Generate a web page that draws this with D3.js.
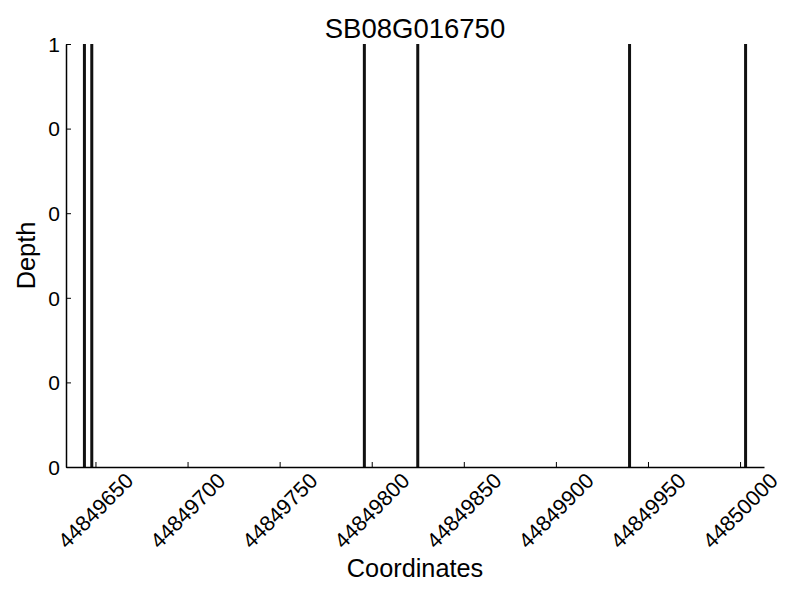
<!DOCTYPE html>
<html>
<head>
<meta charset="utf-8">
<script src="https://cdn.jsdelivr.net/npm/d3@7"></script>
<style>
  body { margin: 0; background: #fff; }
  text { font-family: "Liberation Sans", Arial, sans-serif; fill: #000; }
</style>
</head>
<body>
<svg id="chart" width="800" height="600"></svg>
<script>
const title = "SB08G016750";
const positions = [44849644, 44849648, 44849796, 44849825, 44849940, 44850003];
const depths = [1, 1, 1, 1, 1, 1];
const xTicks = [44849650, 44849700, 44849750, 44849800, 44849850, 44849900, 44849950, 44850000];
const yTicks = [0, 0.2, 0.4, 0.6, 0.8, 1];
const xDomain = [44849634, 44850013];

const svg = d3.select("#chart");
const mLeft = 66, mRight = 764, mTop = 44, mBottom = 467;

const x = d3.scaleLinear().domain(xDomain).range([mLeft, mRight]);
const y = d3.scaleLinear().domain([0, 1]).range([mBottom, mTop]);

// bars
svg.append("g").selectAll("rect").data(positions.map((p, i) => ({p, d: depths[i]})))
  .join("rect")
  .attr("x", d => x(d.p) - 1.5)
  .attr("width", 3)
  .attr("y", d => y(d.d))
  .attr("height", d => y(0) - y(d.d))
  .attr("fill", "#111");

// x axis
const xAxis = d3.axisBottom(x).tickValues(xTicks).tickSizeInner(-5).tickSizeOuter(0).tickFormat(d3.format("d"));
const gx = svg.append("g").attr("transform", `translate(0,${mBottom})`).call(xAxis);
gx.attr("font-family", null).attr("font-size", null);
gx.select(".domain").attr("stroke", "#000").attr("stroke-width", 1.5);
gx.selectAll(".tick line").attr("stroke", "#000").attr("stroke-width", 1);
gx.selectAll(".tick text")
  .style("font-size", "21.5px")
  .attr("text-anchor", "middle")
  .attr("dominant-baseline", "central")
  .attr("y", 0).attr("dy", 0)
  .attr("transform", "translate(0,44) rotate(-45)");

// y axis
const yAxis = d3.axisLeft(y).tickValues(yTicks).tickSizeInner(-5).tickSizeOuter(0).tickFormat(d => String(Math.floor(d)));
const gy = svg.append("g").attr("transform", `translate(${mLeft},0)`).call(yAxis);
gy.attr("font-family", null).attr("font-size", null);
gy.select(".domain").attr("stroke", "#000").attr("stroke-width", 1.5);
gy.selectAll(".tick line").attr("stroke", "#000").attr("stroke-width", 1);
gy.selectAll(".tick text")
  .style("font-size", "21px")
  .attr("x", -6).attr("dy", "0.35em")
  .attr("text-anchor", "end");

// title and labels
svg.append("text").attr("x", (mLeft + mRight) / 2).attr("y", 38)
  .attr("text-anchor", "middle").style("font-size", "27.5px").text(title);
svg.append("text").attr("x", (mLeft + mRight) / 2).attr("y", 577)
  .attr("text-anchor", "middle").style("font-size", "25.3px").text("Coordinates");
svg.append("text").attr("transform", `translate(35,${(mTop + mBottom) / 2}) rotate(-90)`)
  .attr("text-anchor", "middle").style("font-size", "25.3px").text("Depth");
</script>
</body>
</html>
